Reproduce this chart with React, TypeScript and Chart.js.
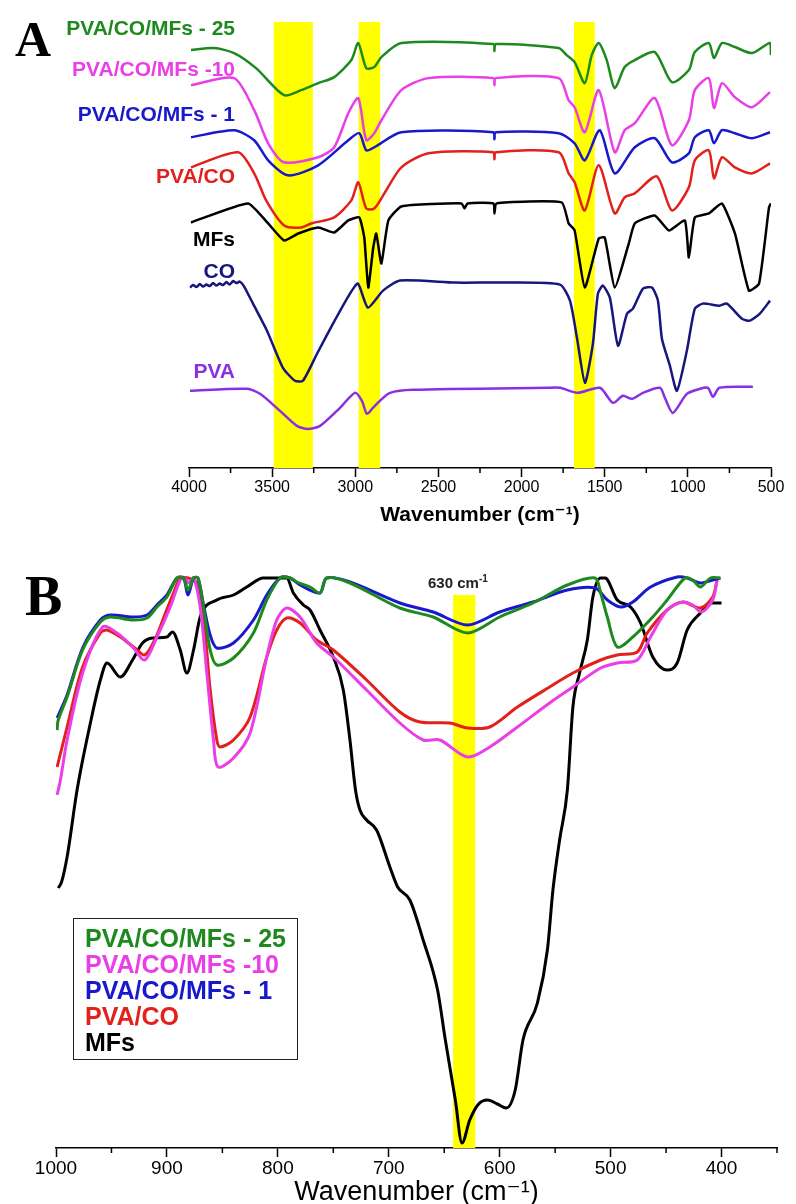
import React, { useEffect, useRef } from "react";
import { Chart, registerables } from "chart.js";
Chart.register(...registerables);

// ---------- Panel A (4000–500 cm-1) ----------
const majorTicksA = [4000, 3500, 3000, 2500, 2000, 1500, 1000, 500];
const minorTicksA = [3750, 3250, 2750, 2250, 1750, 1250, 750];
const bandsA = [[3490, 3255], [2980, 2850], [1685, 1560]];

const mf25A_x = [3988, 3850, 3729, 3597, 3428, 3325, 3223, 3127, 3024, 2982, 2934, 2886, 2843, 2723, 2170, 2163, 2155, 1777, 1729, 1681, 1620, 1578, 1536, 1488, 1440, 1380, 1319, 1199, 1096, 994, 958, 874, 843, 795, 717, 614, 506, 500];
const mf25A_y = [83.4, 83.8, 82.8, 79.8, 74.4, 75.4, 76.8, 78, 81.4, 84.8, 79.8, 80, 82, 84.8, 84.6, 83.2, 84.6, 83.8, 82.4, 81, 76.8, 82.4, 84.8, 81.4, 75.8, 80, 81.4, 83, 77, 79.4, 83, 84.8, 81.8, 84.8, 84, 82.8, 84.8, 82.4];

const mf10A_x = [3988, 3729, 3608, 3524, 3428, 3223, 3127, 3042, 2982, 2934, 2886, 2843, 2723, 2560, 2170, 2163, 2155, 1777, 1717, 1681, 1620, 1536, 1440, 1380, 1319, 1199, 1096, 994, 958, 874, 843, 795, 717, 614, 506];
const mf10A_y = [76.4, 77.8, 71.4, 64.8, 61, 62, 64, 70.8, 73.8, 65.4, 66.8, 69.4, 75.4, 77.8, 77.8, 76.4, 77.8, 77.8, 73.4, 72, 67, 75.4, 63, 67.4, 68.8, 73.8, 64.4, 69.4, 75.4, 77.8, 71.8, 76.8, 74, 72, 75];

const mf1A_x = [3988, 3729, 3608, 3524, 3404, 3223, 3042, 2976, 2934, 2886, 2723, 2170, 2163, 2155, 1777, 1681, 1620, 1530, 1440, 1319, 1199, 1096, 994, 958, 874, 843, 795, 717, 614, 506];
const mf1A_y = [66, 67.4, 65.4, 61.4, 58.4, 60.4, 65.4, 66.8, 63.4, 64, 67, 67, 65.6, 67, 66.8, 64.8, 61.4, 67.4, 58.8, 64, 65.8, 61, 62.8, 66, 67.4, 64.8, 67.4, 66.8, 65.8, 67];

const pvacoA_x = [3988, 3705, 3608, 3536, 3428, 3325, 3265, 3127, 3024, 2982, 2934, 2886, 2825, 2723, 2560, 2170, 2163, 2155, 1777, 1717, 1681, 1620, 1536, 1440, 1380, 1319, 1187, 1096, 994, 958, 874, 843, 795, 717, 614, 506];
const pvacoA_y = [60, 63, 58.8, 53.4, 48.4, 48, 48.8, 50, 53.4, 57, 51.8, 51.8, 54.8, 60, 62.8, 63, 61.6, 63, 63, 58.8, 57, 51.4, 60.4, 50.8, 54, 54.8, 58.2, 51.4, 56, 61.4, 63.4, 57.8, 62, 60, 58.8, 60.8];

const mfsA_x = [3988, 3645, 3524, 3428, 3343, 3223, 3127, 3042, 2976, 2946, 2922, 2892, 2874, 2843, 2801, 2723, 2361, 2343, 2325, 2169, 2163, 2151, 1759, 1717, 1681, 1620, 1536, 1500, 1440, 1355, 1319, 1199, 1114, 1018, 994, 958, 874, 795, 717, 633, 572, 512, 500];
const mfsA_y = [49, 52.8, 48.8, 45.4, 46.8, 48, 47, 49.4, 50, 46, 36, 44, 46.8, 40.8, 49.4, 52.2, 52.8, 51.8, 52.8, 52.8, 50.8, 52.8, 53, 48.8, 47.4, 36, 45.8, 46, 36, 44.8, 48.8, 50.4, 47.4, 49.4, 42, 50, 50.8, 52.8, 46.8, 35.4, 36.8, 52, 52.8];

const coA_x = [3994, 3975, 3955, 3935, 3915, 3895, 3875, 3855, 3835, 3815, 3795, 3775, 3755, 3735, 3715, 3695, 3670, 3615, 3531, 3435, 3363, 3315, 3230, 3134, 3032, 2984, 2924, 2833, 2731, 2400, 2100, 1769, 1709, 1667, 1619, 1571, 1541, 1511, 1469, 1420, 1366, 1330, 1270, 1216, 1180, 1156, 1108, 1066, 1006, 958, 910, 810, 765, 675, 627, 567, 506];
const coA_y = [36, 36.5, 36.1, 36.7, 36.2, 36.6, 36.3, 36.9, 36.4, 36.8, 36.5, 37.1, 36.6, 37.3, 36.9, 37.2, 36.3, 32.8, 27.4, 20, 17.4, 17.4, 22.8, 28.8, 34.8, 36.8, 32, 35.4, 37.4, 37, 37, 36.6, 33.4, 26, 17, 24.8, 34.8, 36.4, 34, 24.4, 30.8, 31.8, 35.8, 36, 33.4, 25.8, 20.4, 15.4, 23.4, 31.8, 32.8, 32.4, 32.8, 29.8, 29.4, 30.8, 33.4];

const pvaA_x = [3994, 3651, 3573, 3453, 3351, 3284, 3212, 3092, 3002, 2960, 2930, 2894, 2852, 2791, 2653, 1847, 1769, 1661, 1529, 1451, 1390, 1336, 1270, 1168, 1138, 1090, 1006, 927, 879, 849, 810, 609];
const pvaA_y = [15.4, 15.8, 14.8, 11.4, 8.4, 7.8, 8.4, 12, 15, 13.4, 10.8, 12, 13.4, 15, 15.6, 16, 16, 15, 16, 13, 14.4, 13.8, 15, 16, 14, 11, 14.8, 15.8, 16, 14.2, 16, 16.2];

// ---------- Panel B (1000–350 cm-1) ----------
const majorTicksB = [1000, 900, 800, 700, 600, 500, 400];
const minorTicksB = [950, 850, 750, 650, 550, 450, 350];
const bandsB = [[642, 622]];
const bandTopB = 110.6;

const mf25B_x = [999, 998, 990, 976, 960, 951, 931, 918, 909, 900, 891, 885, 881, 876, 872, 867, 861, 855, 840, 822, 810, 798, 789, 783, 771, 762, 756, 735, 690, 660, 629, 600, 570, 539, 514, 509, 503, 494, 480, 462, 449, 433, 426, 419, 410, 401];
const mf25B_y = [83.6, 85.6, 90.2, 99.6, 105.2, 106.2, 105.6, 106, 108.2, 110.2, 114, 114, 111.6, 114, 114, 108.2, 99.6, 96.6, 98, 103, 109.6, 114, 114, 113.2, 112.2, 111, 114, 113, 108, 106.2, 103, 106.2, 109, 112.6, 114, 111, 106.2, 100.2, 102.2, 106.2, 109.6, 114, 113.6, 112.2, 114, 114];

const mf10B_x = [999, 996, 990, 976, 958, 945, 931, 920, 909, 897, 888, 884, 881, 876, 870, 864, 858, 854, 840, 825, 810, 801, 792, 780, 765, 750, 720, 690, 669, 654, 629, 609, 584, 555, 534, 509, 494, 476, 464, 449, 435, 426, 418, 408, 404];
const mf10B_y = [70.6, 73.6, 81.6, 95, 104.2, 103, 100.2, 97.6, 102.2, 108.2, 113.6, 114, 113, 114, 108.2, 95, 81.6, 76.2, 78, 83, 98.2, 105.6, 108, 106.2, 101, 98.2, 91.6, 85, 81.6, 81.6, 78.2, 80.2, 84.2, 89, 92.2, 96, 97, 97.6, 102.2, 107.6, 109.2, 108.6, 107.2, 109.6, 113.6];

const mf1B_x = [999, 990, 976, 960, 951, 931, 918, 909, 900, 891, 885, 881, 876, 872, 867, 861, 855, 840, 822, 810, 798, 789, 780, 762, 756, 735, 690, 660, 629, 600, 570, 539, 514, 503, 491, 480, 464, 440, 431, 419, 408, 401];
const mf1B_y = [86, 90.6, 100, 105.6, 106.6, 106.2, 106.6, 108.6, 110.6, 114, 114, 110.6, 114, 114, 108.6, 102.6, 100, 101, 105.6, 110.6, 114, 114, 112.6, 111, 114, 113.2, 109, 107.2, 104.6, 107.2, 109.2, 111.6, 112, 109.6, 108.2, 109.2, 112.2, 114.2, 114, 113, 113.6, 114];

const pvacoB_x = [999, 990, 976, 960, 954, 942, 929, 920, 911, 902, 893, 888, 881, 873, 867, 861, 855, 852, 840, 825, 810, 801, 792, 780, 765, 750, 720, 690, 672, 645, 629, 609, 584, 555, 534, 509, 494, 476, 467, 449, 435, 419, 408, 404];
const pvacoB_y = [76.2, 84.2, 96.2, 103, 103.6, 102.2, 100, 98.6, 101.6, 106.6, 111.6, 114, 114, 113, 106.2, 91.6, 81.6, 80.2, 81.6, 86.2, 98.2, 103.6, 106, 105, 101.6, 99.6, 93.6, 87.2, 85.2, 85, 84, 84.2, 88.2, 92.2, 95, 97.6, 98.6, 99.2, 103, 107.6, 109.2, 108, 110.2, 113.6];

const mfsB_x = [998, 995, 990, 981, 969, 960, 954, 942, 931, 922, 913, 900, 895, 888, 882, 876, 870, 855, 840, 828, 813, 792, 786, 777, 771, 762, 750, 741, 735, 730, 726, 720, 711, 699, 692, 681, 669, 656, 649, 640, 634, 627, 619, 611, 602, 594, 586, 579, 566, 557, 552, 546, 539, 534, 528, 521, 516, 509, 505, 494, 482, 473, 462, 449, 440, 431, 419, 410, 400];
const mfsB_y = [52, 53.2, 58.2, 71.6, 85, 93.6, 97, 94.2, 97.6, 101, 102, 102.2, 103.2, 99.6, 95, 99.6, 106.2, 109.6, 110.6, 112.2, 114, 114, 111, 108.6, 107.6, 103.6, 98.2, 91.6, 81.6, 71.6, 67.6, 65.6, 63.6, 56.2, 52.2, 49.6, 41.6, 31.6, 21.6, 9.6, 1, 5.6, 8.8, 9.6, 8.8, 8, 11.6, 21.6, 29, 39.6, 51.6, 61.6, 71.6, 88.2, 95, 101.6, 110.2, 114, 114, 109.6, 108.2, 105, 98.2, 95.6, 97, 103.6, 107, 109, 109];

const C = {
  green: "#1e8a1e",
  magenta: "#ea3ee6",
  blue: "#1818cc",
  red: "#e2201c",
  black: "#000000",
  navy: "#16167c",
  purple: "#8a30e0",
};

const pts = (xs: number[], ys: number[]) => xs.map((x, i) => ({ x, y: ys[i] }));

const minorTicksPlugin = {
  id: "minorTicks",
  afterDraw(chart: any, _a: any, opts: any) {
    const s = chart.scales.x;
    const ctx = chart.ctx;
    ctx.save();
    ctx.strokeStyle = "#000";
    ctx.lineWidth = opts.width;
    for (const v of opts.values) {
      const px = s.getPixelForValue(v);
      ctx.beginPath();
      ctx.moveTo(px, s.top);
      ctx.lineTo(px, s.top + opts.length);
      ctx.stroke();
    }
    ctx.restore();
  },
};

const bandsPlugin = {
  id: "bands",
  beforeDatasetsDraw(chart: any, _a: any, opts: any) {
    const { ctx, chartArea } = chart;
    const xs = chart.scales.x;
    const ys = chart.scales.y;
    const top = opts.top == null ? chartArea.top : ys.getPixelForValue(opts.top);
    ctx.save();
    ctx.fillStyle = opts.color;
    for (const [a, b] of opts.ranges) {
      const x1 = xs.getPixelForValue(a);
      const x2 = xs.getPixelForValue(b);
      ctx.fillRect(Math.min(x1, x2), top, Math.abs(x2 - x1), chartArea.bottom - top);
    }
    ctx.restore();
  },
};

const SANS = "'Liberation Sans', Arial, 'DejaVu Sans', sans-serif";

function makeLine(label: string, data: any[], color: string, width: number, tension: number) {
  return {
    label,
    data,
    borderColor: color,
    backgroundColor: color,
    borderWidth: width,
    pointRadius: 0,
    tension,
    fill: false,
  };
}

const plainTick = (v: any) => String(v);

export default function App() {
  const refA = useRef<HTMLCanvasElement>(null);
  const refB = useRef<HTMLCanvasElement>(null);

  useEffect(() => {
    const chartA = new Chart(refA.current!, {
      type: "line",
      data: {
        datasets: [
          makeLine("PVA/CO/MFs - 25", pts(mf25A_x, mf25A_y), C.green, 2.5, 0.25),
          makeLine("PVA/CO/MFs -10", pts(mf10A_x, mf10A_y), C.magenta, 2.5, 0.25),
          makeLine("PVA/CO/MFs - 1", pts(mf1A_x, mf1A_y), C.blue, 2.5, 0.25),
          makeLine("PVA/CO", pts(pvacoA_x, pvacoA_y), C.red, 2.5, 0.25),
          makeLine("MFs", pts(mfsA_x, mfsA_y), C.black, 2.5, 0.15),
          makeLine("CO", pts(coA_x, coA_y), C.navy, 2.5, 0.2),
          makeLine("PVA", pts(pvaA_x, pvaA_y), C.purple, 2.5, 0.25),
        ],
      },
      options: {
        animation: false,
        responsive: false,
        maintainAspectRatio: false,
        layout: { padding: { left: 189, right: 25, top: 22, bottom: 0 } },
        plugins: {
          legend: { display: false },
          tooltip: { enabled: false },
          minorTicks: { values: minorTicksA, length: 5, width: 1.5 },
          bands: { ranges: bandsA, color: "#ffff00", top: null },
        } as any,
        scales: {
          x: {
            type: "linear",
            reverse: true,
            min: 500,
            max: 4000,
            afterBuildTicks: (s: any) => {
              s.ticks = majorTicksA.map((v) => ({ value: v }));
            },
            afterFit: (s: any) => {
              s.height = 72;
            },
            ticks: {
              color: "#000",
              font: { family: SANS, size: 16 },
              padding: 1,
              maxRotation: 0,
              autoSkip: false,
              callback: plainTick,
            },
            grid: { drawOnChartArea: false, drawTicks: true, tickLength: 9, tickColor: "#000", tickWidth: 1.5 },
            border: { display: true, color: "#000", width: 1.5 },
            title: {
              display: true,
              text: "Wavenumber (cm\u207B\u00B9)",
              color: "#000",
              font: { family: SANS, size: 21, weight: "bold", lineHeight: 1 },
              padding: { top: 0, bottom: 14 },
            },
          },
          y: { display: false, min: 0, max: 89 },
        },
      },
      plugins: [bandsPlugin, minorTicksPlugin],
    } as any);

    const chartB = new Chart(refB.current!, {
      type: "line",
      data: {
        datasets: [
          makeLine("PVA/CO/MFs - 25", pts(mf25B_x, mf25B_y), C.green, 3, 0.3),
          makeLine("PVA/CO/MFs - 1", pts(mf1B_x, mf1B_y), C.blue, 3, 0.3),
          makeLine("PVA/CO/MFs -10", pts(mf10B_x, mf10B_y), C.magenta, 3, 0.3),
          makeLine("PVA/CO", pts(pvacoB_x, pvacoB_y), C.red, 3, 0.3),
          { ...makeLine("MFs", pts(mfsB_x, mfsB_y), C.black, 3, 0.4), cubicInterpolationMode: "monotone" },
        ],
      },
      options: {
        animation: false,
        responsive: false,
        maintainAspectRatio: false,
        layout: { padding: { left: 56, right: 19, top: 28, bottom: 0 } },
        plugins: {
          legend: { display: false },
          tooltip: { enabled: false },
          minorTicks: { values: minorTicksB, length: 5, width: 1.5 },
          bands: { ranges: bandsB, color: "#ffff00", top: bandTopB },
        } as any,
        scales: {
          x: {
            type: "linear",
            reverse: true,
            min: 350,
            max: 1000,
            afterBuildTicks: (s: any) => {
              s.ticks = majorTicksB.map((v) => ({ value: v }));
            },
            afterFit: (s: any) => {
              s.height = 56;
            },
            ticks: {
              color: "#000",
              font: { family: SANS, size: 19 },
              padding: 0,
              maxRotation: 0,
              autoSkip: false,
              callback: plainTick,
            },
            grid: { drawOnChartArea: false, drawTicks: true, tickLength: 9, tickColor: "#000", tickWidth: 1.5 },
            border: { display: true, color: "#000", width: 1.5 },
            title: {
              display: true,
              text: "Wavenumber (cm\u207B\u00B9)",
              color: "#000",
              font: { family: SANS, size: 27, lineHeight: 1 },
              padding: { top: 0, bottom: -2 },
            },
          },
          y: { display: false, min: 0, max: 116 },
        },
      },
      plugins: [bandsPlugin, minorTicksPlugin],
    } as any);

    return () => {
      chartA.destroy();
      chartB.destroy();
    };
  }, []);

  const labelA = (text: string, color: string, cy: number) => (
    <div
      key={text}
      style={{
        position: "absolute",
        left: 0,
        width: 235,
        top: cy - 11,
        height: 22,
        lineHeight: "22px",
        textAlign: "right",
        font: `bold 21px ${SANS}`,
        color,
        whiteSpace: "nowrap",
      }}
    >
      {text}
    </div>
  );

  const legendLine = (text: string, color: string) => (
    <div key={text} style={{ color, height: 26, lineHeight: "26px", whiteSpace: "nowrap" }}>
      {text}
    </div>
  );

  return (
    <div
      style={{
        position: "absolute",
        left: 0,
        top: 0,
        width: 796,
        height: 1204,
        background: "#fff",
        overflow: "hidden",
      }}
    >
      <canvas ref={refA} width={796} height={540} style={{ position: "absolute", left: 0, top: 0, width: 796, height: 540 }} />
      <canvas ref={refB} width={796} height={664} style={{ position: "absolute", left: 0, top: 540, width: 796, height: 664 }} />

      <div style={{ position: "absolute", left: 15, top: 14, font: "bold 50px 'Liberation Serif', 'Times New Roman', serif", lineHeight: "50px", color: "#000" }}>A</div>
      <div style={{ position: "absolute", left: 25, top: 568, font: "bold 56px 'Liberation Serif', 'Times New Roman', serif", lineHeight: "56px", color: "#000" }}>B</div>

      {labelA("PVA/CO/MFs - 25", C.green, 27)}
      {labelA("PVA/CO/MFs -10", C.magenta, 68)}
      {labelA("PVA/CO/MFs - 1", C.blue, 113)}
      {labelA("PVA/CO", C.red, 175)}
      {labelA("MFs", C.black, 238)}
      {labelA("CO", C.navy, 270)}
      {labelA("PVA", C.purple, 370)}

      <div
        style={{
          position: "absolute",
          left: 428,
          top: 574,
          height: 18,
          lineHeight: "18px",
          font: `bold 15px ${SANS}`,
          color: "#222",
          whiteSpace: "nowrap",
        }}
      >
        630 cm<sup style={{ fontSize: 10, verticalAlign: "6px", lineHeight: 0 }}>-1</sup>
      </div>

      <div
        style={{
          position: "absolute",
          left: 73,
          top: 918,
          width: 225,
          height: 142,
          boxSizing: "border-box",
          border: "1.5px solid #222",
          padding: "6px 0 0 11px",
          font: `bold 25px ${SANS}`,
        }}
      >
        {legendLine("PVA/CO/MFs - 25", C.green)}
        {legendLine("PVA/CO/MFs -10", C.magenta)}
        {legendLine("PVA/CO/MFs - 1", C.blue)}
        {legendLine("PVA/CO", C.red)}
        {legendLine("MFs", C.black)}
      </div>
    </div>
  );
}
